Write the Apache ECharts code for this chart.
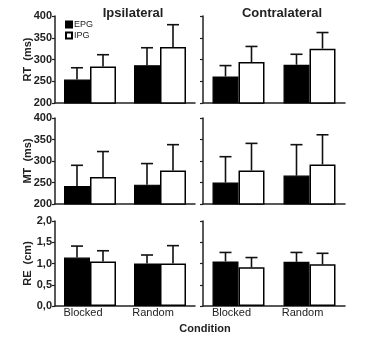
<!DOCTYPE html>
<html>
<head>
    <meta charset="utf-8">
    <title>RT / MT / RE</title>
    <script src="https://cdn.jsdelivr.net/npm/echarts@6/dist/echarts.min.js"></script>
    <style>
        html, body { margin: 0; padding: 0; background: #fff; }
        #chart { width: 375px; height: 339px; }
    </style>
</head>
<body>
<div id="chart"></div>
<script>
    // 数据
    var conditions = ['Blocked', 'Random'];
    var panelTitles = ['Ipsilateral', 'Contralateral'];
    var rowNames = ['RT  (ms)', 'MT  (ms)', 'RE  (cm)'];

    // RT
    var rtIpsiEpg = [254, 287], rtIpsiEpgSd = [27, 40];
    var rtIpsiIpg = [284, 329], rtIpsiIpgSd = [27, 51];
    var rtContraEpg = [261, 288], rtContraEpgSd = [25, 24];
    var rtContraIpg = [294, 325], rtContraIpgSd = [36, 37];
    // MT
    var mtIpsiEpg = [242, 245], mtIpsiEpgSd = [48, 49];
    var mtIpsiIpg = [263, 278], mtIpsiIpgSd = [59, 60];
    var mtContraEpg = [250, 266], mtContraEpgSd = [60, 72];
    var mtContraIpg = [278, 292], mtContraIpgSd = [63, 69];
    // RE
    var reIpsiEpg = [1.14, 1.0], reIpsiEpgSd = [0.27, 0.2];
    var reIpsiIpg = [1.05, 1.0], reIpsiIpgSd = [0.25, 0.42];
    var reContraEpg = [1.05, 1.04], reContraEpgSd = [0.21, 0.22];
    var reContraIpg = [0.91, 0.98], reContraIpgSd = [0.23, 0.26];

    var rtTicks = [200, 250, 300, 350, 400];
    var reTicks = [0, 0.5, 1.0, 1.5, 2.0];

    var chart = echarts.init(document.getElementById('chart'), null, {renderer: 'canvas'});
    var FONT = 'Liberation Sans';
    var BAR_W = 26;

    // 每个面板: [epg, epgSd, ipg, ipgSd]
    var panels = [
        [rtIpsiEpg, rtIpsiEpgSd, rtIpsiIpg, rtIpsiIpgSd],
        [rtContraEpg, rtContraEpgSd, rtContraIpg, rtContraIpgSd],
        [mtIpsiEpg, mtIpsiEpgSd, mtIpsiIpg, mtIpsiIpgSd],
        [mtContraEpg, mtContraEpgSd, mtContraIpg, mtContraIpgSd],
        [reIpsiEpg, reIpsiEpgSd, reIpsiIpg, reIpsiIpgSd],
        [reContraEpg, reContraEpgSd, reContraIpg, reContraIpgSd]
    ];
    var rowTops = [16, 118, 221];
    var rowHeights = [87, 86, 85];
    var colLefts = [55, 203];
    var colWidths = [140, 142];

    function errRender(offset) {
        return function (params, api) {
            var c = api.value(0), m = api.value(1), s = api.value(2);
            var p0 = api.coord([c, m]);
            var p1 = api.coord([c, m + s]);
            var x = p0[0] + offset;
            var st = {stroke: '#111', lineWidth: 1.6};
            return {
                type: 'group', children: [
                    {type: 'line', shape: {x1: x, y1: p0[1], x2: x, y2: p1[1]}, style: st},
                    {type: 'line', shape: {x1: x - 6, y1: p1[1], x2: x + 6, y2: p1[1]}, style: st}
                ]
            };
        };
    }

    var grids = [], xAxes = [], yAxes = [], series = [];
    panels.forEach(function (p, i) {
        var row = Math.floor(i / 2), col = i % 2;
        var ticks = row === 2 ? reTicks : rtTicks;
        grids.push({left: colLefts[col], top: rowTops[row], width: colWidths[col], height: rowHeights[row]});
        xAxes.push({
            type: 'category', gridIndex: i, data: conditions,
            axisLine: {lineStyle: {color: '#222', width: 1.5}},
            axisTick: {show: false},
            axisLabel: {
                show: row === 2, margin: 1, padding: [0, 14, 0, 0],
                fontFamily: FONT, fontSize: 11, color: '#222'
            }
        });
        yAxes.push({
            type: 'value', gridIndex: i,
            min: ticks[0], max: ticks[ticks.length - 1], interval: ticks[1] - ticks[0],
            splitLine: {show: false},
            axisLine: {show: true, lineStyle: {color: '#222', width: 1.5}},
            axisTick: {show: true, length: 3, lineStyle: {color: '#222', width: 1.2}},
            axisLabel: {
                show: col === 0, margin: 3, fontFamily: FONT, fontSize: 11, fontWeight: 'bold', color: '#222',
                formatter: function (v) {
                    return row === 2 ? v.toFixed(1).replace('.', ',') : String(v);
                }
            },
            name: col === 0 ? rowNames[row] : '',
            nameLocation: 'middle', nameRotate: 90, nameGap: 22, nameMoveOverlap: false,
            nameTextStyle: {fontFamily: FONT, fontSize: 11, fontWeight: 'bold', color: '#222'}
        });
        series.push({
            name: 'EPG', type: 'bar', xAxisIndex: i, yAxisIndex: i,
            data: p[0], barWidth: BAR_W, barGap: '0%',
            itemStyle: {color: '#000', borderColor: '#000', borderWidth: 1.2},
            z: 3
        });
        series.push({
            name: 'IPG', type: 'bar', xAxisIndex: i, yAxisIndex: i,
            data: p[2], barWidth: BAR_W, barGap: '0%',
            itemStyle: {color: '#fff', borderColor: '#000', borderWidth: 1.5},
            z: 3
        });
        series.push({
            type: 'custom', xAxisIndex: i, yAxisIndex: i,
            renderItem: errRender(-BAR_W / 2),
            data: p[0].map(function (v, k) { return [k, v, p[1][k]]; }),
            z: 2
        });
        series.push({
            type: 'custom', xAxisIndex: i, yAxisIndex: i,
            renderItem: errRender(BAR_W / 2),
            data: p[2].map(function (v, k) { return [k, v, p[3][k]]; }),
            z: 2
        });
    });

    var option = {
        backgroundColor: '#fff',
        animation: false,
        title: [
            {text: panelTitles[0], left: 128, top: 2, textAlign: 'center',
                textStyle: {fontFamily: FONT, fontSize: 13, fontWeight: 'bold', color: '#222'}},
            {text: panelTitles[1], left: 277, top: 2, textAlign: 'center',
                textStyle: {fontFamily: FONT, fontSize: 13, fontWeight: 'bold', color: '#222'}},
            {text: 'Condition', left: 200, top: 318, textAlign: 'center',
                textStyle: {fontFamily: FONT, fontSize: 11, fontWeight: 'bold', color: '#222'}}
        ],
        legend: {
            data: ['EPG', 'IPG'], orient: 'vertical', left: 60, top: 15,
            itemWidth: 6, itemHeight: 6, itemGap: 2, icon: 'rect',
            textStyle: {fontFamily: FONT, fontSize: 9, color: '#222', padding: [0, 0, 0, -3]}
        },
        grid: grids,
        xAxis: xAxes,
        yAxis: yAxes,
        series: series
    };
    chart.setOption(option);
</script>
</body>
</html>
